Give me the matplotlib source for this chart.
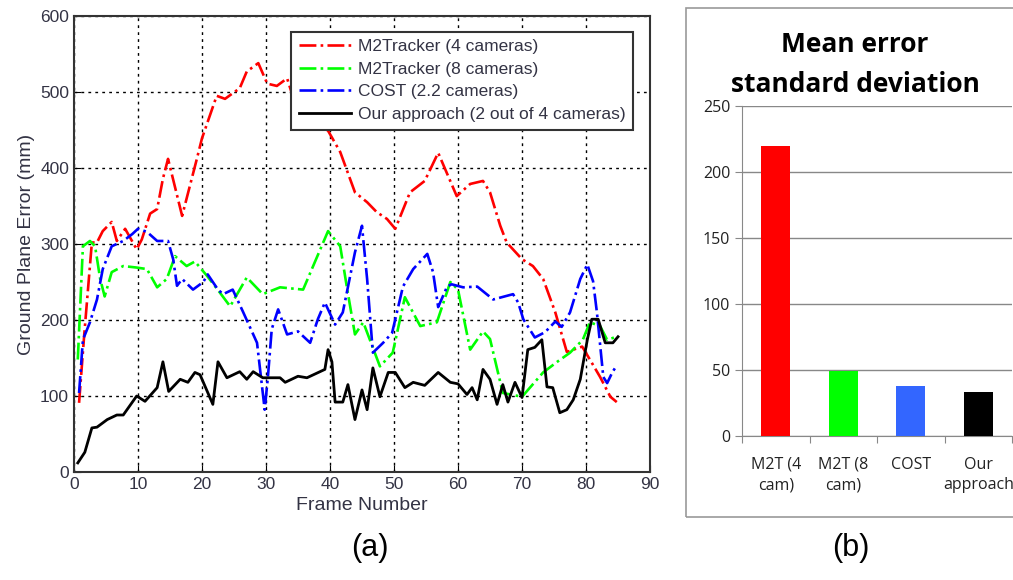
import numpy as np
import matplotlib.pyplot as plt
from matplotlib.patches import Rectangle

# (a) ground plane error per frame, polyline vertices
red_x = [0.8, 1.6, 2.8, 3.6, 4.5, 5.9, 6.7, 8, 9.8, 10.6, 11.9, 13, 13.9, 14.7, 16.9, 19.2, 20,
         22.3, 23.6, 25.9, 27, 28.8, 30.2, 31.7, 33.3, 34.2, 36, 38, 39.7, 41.6, 43.9, 45.8, 47.3,
         48.9, 50.2, 52.5, 54.8, 56.9, 59.8, 61.9, 63.9, 65, 66.6, 67.6, 70, 71.7, 73.3, 75.2,
         77, 79.4, 80.6, 82.2, 83.8, 84.8]
red_y = [91, 180, 302, 302, 317, 329, 304, 320, 293, 306, 340, 346, 386, 412, 337, 412, 439,
         495, 491, 505, 527, 538, 511, 508, 518, 494, 475, 460, 449, 421, 368, 355, 342,
         333, 320, 368, 383, 420, 363, 379, 383, 368, 324, 302, 280, 271, 254, 210,
         158, 165, 148, 125, 99, 92]

green_x = [0.6, 1.4, 2.5, 3.3, 4.1, 4.8, 5.9, 7.7, 9.8, 11.4, 13, 14.5, 15.8, 17.6, 18.9, 20.8,
           22.8, 24.4, 27, 29.5, 32.2, 35.8, 39.7, 41.6, 42.7, 43.9, 45.2, 47.8, 49.8, 51.7,
           54.1, 56.7, 58.8, 60, 61.9, 63.9, 65, 67, 70, 73.3, 75.5, 77.5, 79.5, 80.6, 82.2,
           83.3, 84.8]
green_y = [148, 297, 304, 297, 254, 231, 263, 271, 269, 267, 243, 254, 284, 271, 277, 258,
           236, 218, 256, 234, 243, 240, 317, 297, 240, 181, 197, 139, 157, 230,
           192, 197, 250, 240, 161, 185, 175, 104, 99, 131, 145, 157, 174, 197, 192,
           174, 178]

blue_x = [0.8, 1.4, 2.5, 3.6, 4.5, 5.9, 7.7, 9.1, 10, 11.4, 13, 14.7, 15.5, 16.1, 16.9, 18.6,
          20.2, 20.9, 22.5, 23.3, 24.8, 26.4, 28.6, 29.8, 30.3, 30.9, 31.9, 33.3, 35, 36.9,
          38.1, 39.2, 40.8, 42, 43.9, 45, 45.2, 45.8, 46.7, 48.3, 49.7, 51.4, 53, 55.2, 56.1,
          56.9, 58.3, 59, 60.8, 63, 65.5, 68.6, 69.4, 70.2, 72, 73.6, 75.2, 76.2, 77.5, 79.1,
          80.2, 81.1, 81.7, 82.7, 83.3, 84.1, 84.7]
blue_y = [104, 174, 197, 227, 267, 297, 304, 313, 320, 316, 304, 304, 280, 245, 254, 240,
          250, 260, 240, 234, 240, 211, 170, 82, 125, 188, 214, 181, 185, 170,
          201, 223, 194, 210, 289, 324, 306, 254, 157, 170, 183, 244, 267, 287, 263,
          217, 244, 247, 243, 244, 227, 234, 223, 201, 177, 184, 198, 191, 210, 254,
          273, 251, 210, 125, 117, 131, 139]

black_x = [0.6, 1.7, 2.8, 3.6, 5.2, 6.7, 7.7, 9.8, 11.1, 13, 13.9, 14.8, 16.6, 17.8, 18.9, 19.7,
           21.7, 22.5, 23.9, 25.9, 27, 28, 29.5, 32.2, 33, 35, 36.4, 39.2, 39.7, 40.3, 40.8,
           42, 42.8, 43.9, 45, 45.8, 46.7, 47.8, 49.1, 50.2, 51.7, 53, 54.8, 56.9, 58.8, 60,
           61.4, 62.2, 63, 63.9, 65, 66.1, 67, 67.8, 68.9, 70, 70.9, 72, 73.1, 73.9, 74.8,
           75.9, 77, 78, 79.1, 80.2, 80.9, 81.9, 83, 84.2, 85]
black_y = [12, 26, 58, 59, 69, 75, 75, 100, 93, 111, 145, 106, 122, 118, 131, 128,
           89, 145, 124, 132, 122, 132, 124, 124, 118, 126, 124, 135, 161, 145, 92,
           92, 115, 69, 108, 82, 137, 99, 131, 131, 111, 118, 114, 131, 118, 116,
           102, 111, 95, 135, 122, 89, 115, 92, 118, 98, 161, 164, 174, 112, 111,
           78, 82, 95, 122, 174, 201, 201, 170, 170, 178]

# (b) mean error standard deviation
bar_labels = ['M2T (4\ncam)', 'M2T (8\ncam)', 'COST', 'Our\napproach']
bar_values = [220, 49, 38, 33]
bar_colors = ['#ff0000', '#00ff00', '#3366ff', '#000000']

plt.rcParams['font.family'] = ['Liberation Sans', 'DejaVu Sans']

fig = plt.figure(figsize=(10.13, 5.8), dpi=100)

ax = fig.add_axes([0.0730, 0.1862, 0.5687, 0.7862])
ax.plot(red_x, red_y, color='#ff0000', linestyle='-.', linewidth=1.9,
        label='M2Tracker (4 cameras)')
ax.plot(green_x, green_y, color='#00ff00', linestyle='-.', linewidth=1.9,
        label='M2Tracker (8 cameras)')
ax.plot(blue_x, blue_y, color='#0000ff', linestyle='-.', linewidth=1.9,
        label='COST (2.2 cameras)')
ax.plot(black_x, black_y, color='black', linestyle='-', linewidth=2,
        label='Our approach (2 out of 4 cameras)')
ax.set_xlim(0, 90)
ax.set_ylim(0, 600)
ax.set_xticks(range(0, 91, 10))
ax.set_yticks(range(0, 601, 100))
ax.grid(True, color='black', linestyle=(0, (2, 3)), linewidth=1)
ax.tick_params(direction='in', labelsize=12.5, labelcolor='#333344', length=5)
for s in ax.spines.values():
    s.set_linewidth(1.5)
    s.set_color('#333333')
ax.set_xlabel('Frame Number', fontsize=14, color='#333344', labelpad=4)
ax.set_ylabel('Ground Plane Error (mm)', fontsize=14, color='#333344', labelpad=4)
leg = ax.legend(loc='upper right', bbox_to_anchor=(0.986, 0.985), fontsize=12.5,
                fancybox=False, framealpha=1, edgecolor='#333333',
                handlelength=3, borderpad=0.45, labelspacing=0.42, handletextpad=0.4)
leg.get_frame().set_linewidth(1.5)
for t in leg.get_texts():
    t.set_color('#333344')

# panel (b) frame
fig.patches.append(Rectangle((686 / 1013, 1 - 517 / 580), 330 / 1013, 509 / 580,
                             transform=fig.transFigure, fill=False,
                             edgecolor='#999999', linewidth=1.2))
fig.text(855 / 1013, 1 - 45 / 580, 'Mean error', ha='center', va='center',
         fontsize=19, fontweight='bold', family='Open Sans')
fig.text(855 / 1013, 1 - 85 / 580, 'standard deviation', ha='center', va='center',
         fontsize=19, fontweight='bold', family='Open Sans')

bx = fig.add_axes([742 / 1013, 1 - 436 / 580, 270 / 1013, 330 / 580])
xpos = np.arange(len(bar_values))
bx.bar(xpos, bar_values, width=0.43, color=bar_colors, zorder=3)
bx.set_xlim(-0.5, 3.5)
bx.set_ylim(0, 250)
bx.set_yticks(range(0, 251, 50))
bx.set_xticks(np.arange(-0.5, 4, 1))
bx.set_xticklabels([])
bx.set_xticks(xpos, minor=True)
bx.set_xticklabels(bar_labels, minor=True, fontsize=11.5, color='#222222',
                   family='Open Sans', linespacing=1.35)
bx.tick_params(axis='x', which='minor', length=0, pad=15)
bx.tick_params(axis='x', which='major', direction='out', length=5, color='#888888')
bx.tick_params(axis='y', length=5, color='#888888', labelsize=11.5, labelcolor='#222222')
for lab in bx.get_yticklabels():
    lab.set_family('Open Sans')
bx.yaxis.grid(True, color='#888888', linewidth=1)
bx.set_axisbelow(True)
for k in ['top', 'right']:
    bx.spines[k].set_visible(False)
bx.spines['left'].set_color('#888888')
bx.spines['bottom'].set_color('#888888')

fig.text(370 / 1013, 1 - 548 / 580, '(a)', ha='center', va='center', fontsize=22)
fig.text(851 / 1013, 1 - 548 / 580, '(b)', ha='center', va='center', fontsize=22)

fig.savefig('out.png', dpi=100)
